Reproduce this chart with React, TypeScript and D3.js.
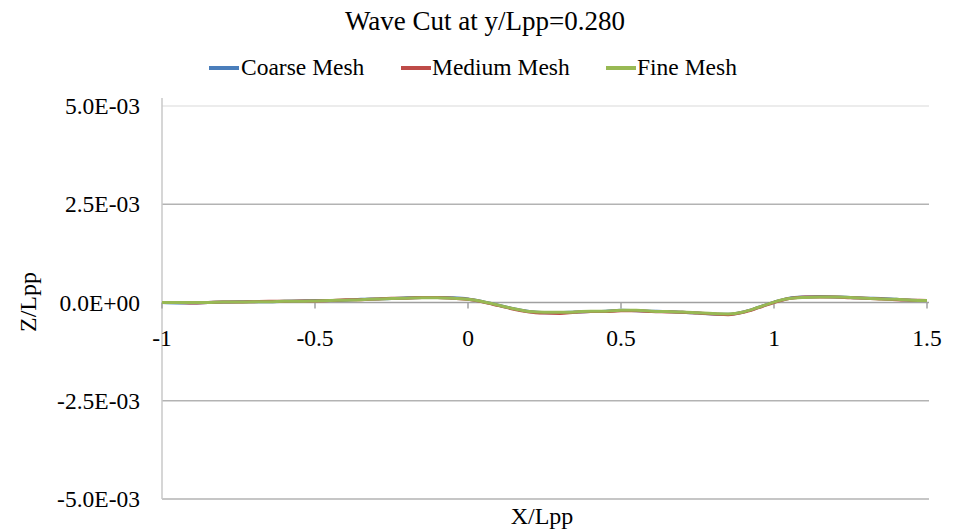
import React from "react";
import * as d3 from "d3";

const xValues = [-1, -0.95, -0.9, -0.85, -0.8, -0.75, -0.7, -0.65, -0.6, -0.55, -0.5, -0.45, -0.4, -0.35, -0.3, -0.25, -0.2, -0.15, -0.1, -0.05, 0, 0.05, 0.1, 0.15, 0.2, 0.25, 0.3, 0.35, 0.4, 0.45, 0.5, 0.55, 0.6, 0.65, 0.7, 0.75, 0.8, 0.85, 0.9, 0.95, 1.0, 1.05, 1.1, 1.15, 1.2, 1.25, 1.3, 1.35, 1.4, 1.45, 1.5];

// values in units of 1e-4
const coarse = [0, -0.1, -0.1, 0, 0.1, 0.2, 0.2, 0.2, 0.3, 0.4, 0.5, 0.5, 0.6, 0.8, 0.9, 1.0, 1.2, 1.3, 1.3, 1.2, 0.9, 0.2, -0.7, -1.6, -2.3, -2.6, -2.6, -2.4, -2.3, -2.2, -2.0, -2.1, -2.2, -2.3, -2.5, -2.7, -2.9, -3.0, -2.4, -1.2, 0.1, 1.1, 1.4, 1.5, 1.4, 1.3, 1.1, 1.0, 0.8, 0.6, 0.5];
const medium = [0, 0, -0.1, 0, 0.1, 0.1, 0.2, 0.3, 0.3, 0.4, 0.4, 0.5, 0.7, 0.7, 0.9, 1.1, 1.1, 1.3, 1.3, 1.1, 0.8, 0.1, -0.8, -1.7, -2.4, -2.7, -2.8, -2.5, -2.3, -2.3, -2.1, -2.1, -2.3, -2.4, -2.5, -2.7, -2.9, -3.1, -2.5, -1.3, 0.0, 1.0, 1.4, 1.4, 1.4, 1.2, 1.1, 0.9, 0.7, 0.6, 0.5];
const fine = [0, 0, 0, 0, 0.1, 0.1, 0.2, 0.2, 0.3, 0.3, 0.4, 0.5, 0.6, 0.7, 0.9, 1.0, 1.1, 1.2, 1.2, 1.1, 0.8, 0.2, -0.7, -1.6, -2.3, -2.5, -2.5, -2.4, -2.2, -2.2, -2.0, -2.0, -2.2, -2.3, -2.4, -2.6, -2.8, -2.9, -2.4, -1.2, 0.1, 1.0, 1.3, 1.4, 1.4, 1.3, 1.1, 0.9, 0.8, 0.6, 0.5];

const seriesNames = ["Coarse Mesh", "Medium Mesh", "Fine Mesh"];
const seriesColors = ["#4A7EBB", "#BE4B48", "#98B954"];
const yTicks = [0.005, 0.0025, 0, -0.0025, -0.005];
const yTickLabels = ["5.0E-03", "2.5E-03", "0.0E+00", "-2.5E-03", "-5.0E-03"];
const xTicks = [-1, -0.5, 0, 0.5, 1, 1.5];
const xTickLabels = ["-1", "-0.5", "0", "0.5", "1", "1.5"];

const W = 958;
const H = 529;
const font = "Liberation Serif, DejaVu Serif, serif";

export default function App() {
  const x = d3.scaleLinear().domain([-1, 1.5]).range([162, 927]);
  const y = d3.scaleLinear().domain([-0.005, 0.005]).range([499, 106]);
  const allSeries = [coarse, medium, fine];
  const line = d3
    .line<[number, number]>()
    .x((d) => x(d[0]))
    .y((d) => y(d[1] * 1e-4))
    .curve(d3.curveMonotoneX);

  const legendItems = [
    { lx: 209, tx: 241 },
    { lx: 401, tx: 432 },
    { lx: 606, tx: 637 },
  ];

  return (
    <svg width={W} height={H} style={{ position: "absolute", left: 0, top: 0, background: "#fff" }}>
      <rect x={0} y={0} width={W} height={H} fill="#fff" />
      <text x={485} y={30} textAnchor="middle" fontFamily={font} fontSize={27} fill="#000">
        Wave Cut at y/Lpp=0.280
      </text>
      {legendItems.map((it, i) => (
        <g key={i}>
          <line x1={it.lx} x2={it.lx + 30} y1={68} y2={68} stroke={seriesColors[i]} strokeWidth={4} />
          <text x={it.tx} y={75} fontFamily={font} fontSize={23.5} fill="#000">
            {seriesNames[i]}
          </text>
        </g>
      ))}
      {yTicks.map((t, i) => (
        <g key={i}>
          {t !== 0 && (
            <line x1={162} x2={929} y1={y(t)} y2={y(t)} stroke={i === 0 ? "#e6e6e6" : "#b3b3b3"} strokeWidth={1.5} />
          )}
          <text x={140} y={y(t) + 8} textAnchor="end" fontFamily={font} fontSize={23.5} fill="#000">
            {yTickLabels[i]}
          </text>
        </g>
      ))}
      <line x1={162} x2={162} y1={98} y2={499} stroke="#c8c8c8" strokeWidth={1.5} />
      <line x1={162} x2={929} y1={y(0)} y2={y(0)} stroke="#a0a0a0" strokeWidth={1.5} />
      {xTicks.map((t, i) => (
        <g key={i}>
          <line x1={x(t)} x2={x(t)} y1={y(0)} y2={y(0) + 6} stroke="#a0a0a0" strokeWidth={1.5} />
          <text x={x(t)} y={346} textAnchor="middle" fontFamily={font} fontSize={23.5} fill="#000">
            {xTickLabels[i]}
          </text>
        </g>
      ))}
      {allSeries.map((s, i) => (
        <path
          key={i}
          d={line(xValues.map((xv, j) => [xv, s[j]] as [number, number])) || ""}
          fill="none"
          stroke={seriesColors[i]}
          strokeWidth={3}
        />
      ))}
      <text x={542} y={524} textAnchor="middle" fontFamily={font} fontSize={24} fill="#000">
        X/Lpp
      </text>
      <text
        transform={`translate(36,302) rotate(-90)`}
        textAnchor="middle"
        fontFamily={font}
        fontSize={24}
        fill="#000"
      >
        Z/Lpp
      </text>
    </svg>
  );
}
